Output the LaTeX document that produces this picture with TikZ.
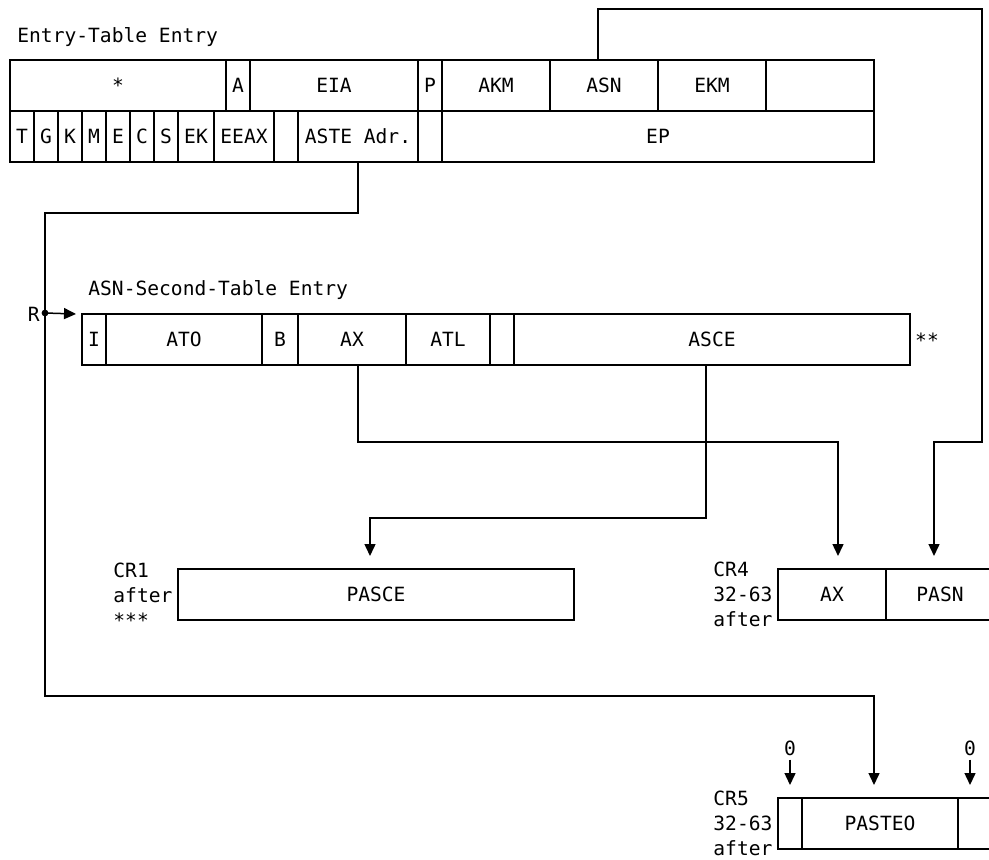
\documentclass[tikz,border=0pt]{standalone}
\usepackage{fontspec}
\setmonofont{DejaVu Sans Mono}
\usetikzlibrary{arrows.meta}

\tikzset{
  cell/.style={draw, line width=0.75pt, inner sep=0pt, outer sep=0pt, minimum height=25.5pt},
  link/.style={line width=0.75pt},
  arr/.style={link, -{Triangle[length=6pt,width=5.5pt]}},
  lbl/.style={anchor=base west, inner sep=0pt},
}

\begin{document}
\begin{tikzpicture}[x=0.5pt,y=-0.5pt,font=\ttfamily\fontsize{9.8}{12}\selectfont]
\useasboundingbox (0,0) rectangle (989,860);

% Entry-Table Entry
\node[lbl] (ettitle) at (17,43) {Entry-Table Entry};
\foreach \nm/\xa/\xb/\txt in {star/10/226/*, a/226/250/A, eia/250/418/EIA, p/418/442/P,
    akm/442/550/AKM, asn/550/658/ASN, ekm/658/766/EKM, rsv/766/874/{}}
  \node[cell, minimum width={(\xb-\xa)*0.5pt}] (et-\nm) at ({(\xa+\xb)/2},85.5) {\txt};
\foreach \nm/\xa/\xb/\txt in {t/10/34/T, g/34/58/G, k/58/82/K, m/82/106/M, e/106/130/E,
    c/130/154/C, s/154/178/S, ek/178/214/EK, eeax/214/274/EEAX, blk/274/298/{},
    aste/298/418/ASTE Adr., blkb/418/442/{}, ep/442/874/EP}
  \node[cell, minimum width={(\xb-\xa)*0.5pt}] (et-\nm) at ({(\xa+\xb)/2},136.5) {\txt};

% ASN-Second-Table Entry
\node[lbl] (sttitle) at (88,296) {ASN-Second-Table Entry};
\foreach \nm/\xa/\xb/\txt in {i/82/106/I, ato/106/262/ATO, b/262/298/B, ax/298/406/AX,
    atl/406/490/ATL, blk/490/514/{}, asce/514/910/ASCE}
  \node[cell, minimum width={(\xb-\xa)*0.5pt}] (st-\nm) at ({(\xa+\xb)/2},339.5) {\txt};
\node[anchor=center, inner sep=0pt] (stars) at (927,340) {**};

% control registers
\node[cell, minimum width=198pt] (cr1-pasce) at (376,594.5) {PASCE};
\node[cell, minimum width=54pt] (cr4-ax) at (832,594.5) {AX};
\node[cell, minimum width=54pt] (cr4-pasn) at (940,594.5) {PASN};
\node[cell, minimum width=12pt] (cr5-zl) at (790,823.5) {};
\node[cell, minimum width=78pt] (cr5-pasteo) at (880,823.5) {PASTEO};
\node[cell, minimum width=18pt] (cr5-zr) at (976,823.5) {};

\node[lbl] (cr1a) at (113,577) {CR1};
\node[lbl] (cr1b) at (113,602) {after};
\node[lbl] (cr1c) at (113,627) {***};
\node[lbl] (cr4a) at (713,576) {CR4};
\node[lbl] (cr4b) at (713,601) {32-63};
\node[lbl] (cr4c) at (713,626) {after};
\node[lbl] (cr5a) at (713,805) {CR5};
\node[lbl] (cr5b) at (713,830) {32-63};
\node[lbl] (cr5c) at (713,855) {after};

% connectors
\coordinate (topright) at (982,9);
\coordinate (midright) at (982,442);
\coordinate (axcorner) at (838,442);
\coordinate (ascecorner) at (370,518);
\coordinate (rbend) at (45,213);
\coordinate (lowbend) at (45,696);
\coordinate (rdot) at (45,313);

\draw[arr] ([xshift=-3pt]et-asn.north) |- (topright) -- (midright)
  -| ([xshift=-3pt,yshift=6.5pt]cr4-pasn.north);
\draw[arr] ([xshift=3pt]st-ax.south) |- (axcorner) -- ([xshift=3pt,yshift=6.5pt]cr4-ax.north);
\draw[arr] ([xshift=-3pt]st-asce.south) |- (ascecorner) -- ([xshift=-3pt,yshift=6.5pt]cr1-pasce.north);
\draw[arr] (et-aste.south) |- (rbend) -- (lowbend)
  -| ([xshift=-3pt,yshift=6.5pt]cr5-pasteo.north);

\fill (rdot) circle[radius=1.7pt];
\node[anchor=base east, inner sep=0pt] (rlbl) at (40,322) {R};
\draw[arr] (rdot) -- ([xshift=-3pt]st-i.north west);

\node[anchor=base, inner sep=0pt] (zl) at (790,755) {0};
\node[anchor=base, inner sep=0pt] (zr) at (970,755) {0};
\draw[arr] ([yshift=-2pt]zl.south) -- ([yshift=6.5pt]cr5-zl.north);
\draw[arr] ([yshift=-2pt]zr.south) -- ([xshift=-3pt,yshift=6.5pt]cr5-zr.north);
\end{tikzpicture}
\end{document}
